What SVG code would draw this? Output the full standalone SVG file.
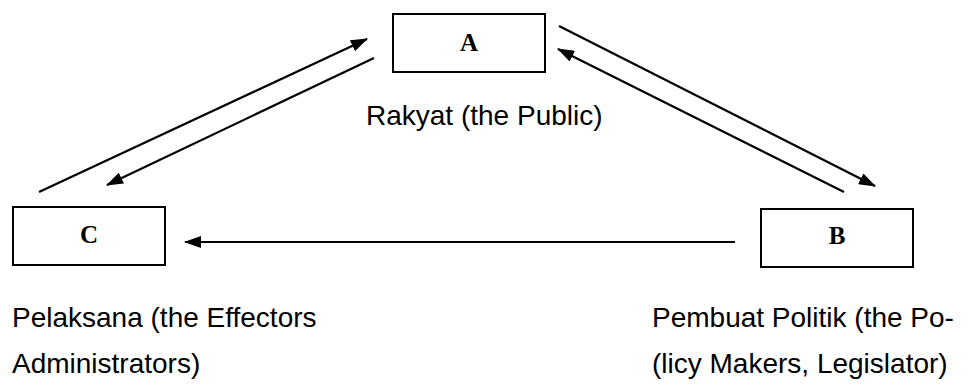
<svg xmlns="http://www.w3.org/2000/svg" width="972" height="385" viewBox="0 0 972 385">
<defs>
<marker id="ah" viewBox="0 0 17 12" refX="16" refY="6" markerWidth="17" markerHeight="12" markerUnits="userSpaceOnUse" orient="auto">
<path d="M0,0 L17,6 L0,12 z" fill="#000"/>
</marker>
<style>
.box{fill:#fff;stroke:#000;stroke-width:2}
.letter{font-family:"Liberation Serif","Times New Roman",serif;font-weight:bold;font-size:25px;text-anchor:middle;fill:#000}
.lbl{font-family:"Liberation Sans",Arial,sans-serif;font-size:28px;fill:#000}
.conn line{stroke:#000;stroke-width:2.2}
</style>
</defs>
<rect width="972" height="385" fill="#fff"/>
<g id="connectors" class="conn">
<line x1="39" y1="192" x2="367" y2="39" marker-end="url(#ah)"/>
<line x1="374" y1="58" x2="107" y2="185" marker-end="url(#ah)"/>
<line x1="559" y1="26" x2="875" y2="186" marker-end="url(#ah)"/>
<line x1="844" y1="192" x2="558" y2="49" marker-end="url(#ah)"/>
<line x1="735" y1="242" x2="185" y2="242" marker-end="url(#ah)"/>
</g>
<g id="nodeA">
<rect class="box" x="393" y="14" width="152" height="58"/>
<text class="letter" x="469" y="51">A</text>
<text class="lbl" x="366" y="125">Rakyat (the Public)</text>
</g>
<g id="nodeC">
<rect class="box" x="13" y="207" width="152" height="58"/>
<text class="letter" x="89" y="243">C</text>
<text class="lbl" x="12" y="327">Pelaksana (the Effectors</text>
<text class="lbl" x="12" y="373">Administrators)</text>
</g>
<g id="nodeB">
<rect class="box" x="761" y="209" width="152" height="58"/>
<text class="letter" x="837" y="244">B</text>
<text class="lbl" x="652" y="327">Pembuat Politik (the Po-</text>
<text class="lbl" x="652" y="373">(licy Makers, Legislator)</text>
</g>
</svg>
